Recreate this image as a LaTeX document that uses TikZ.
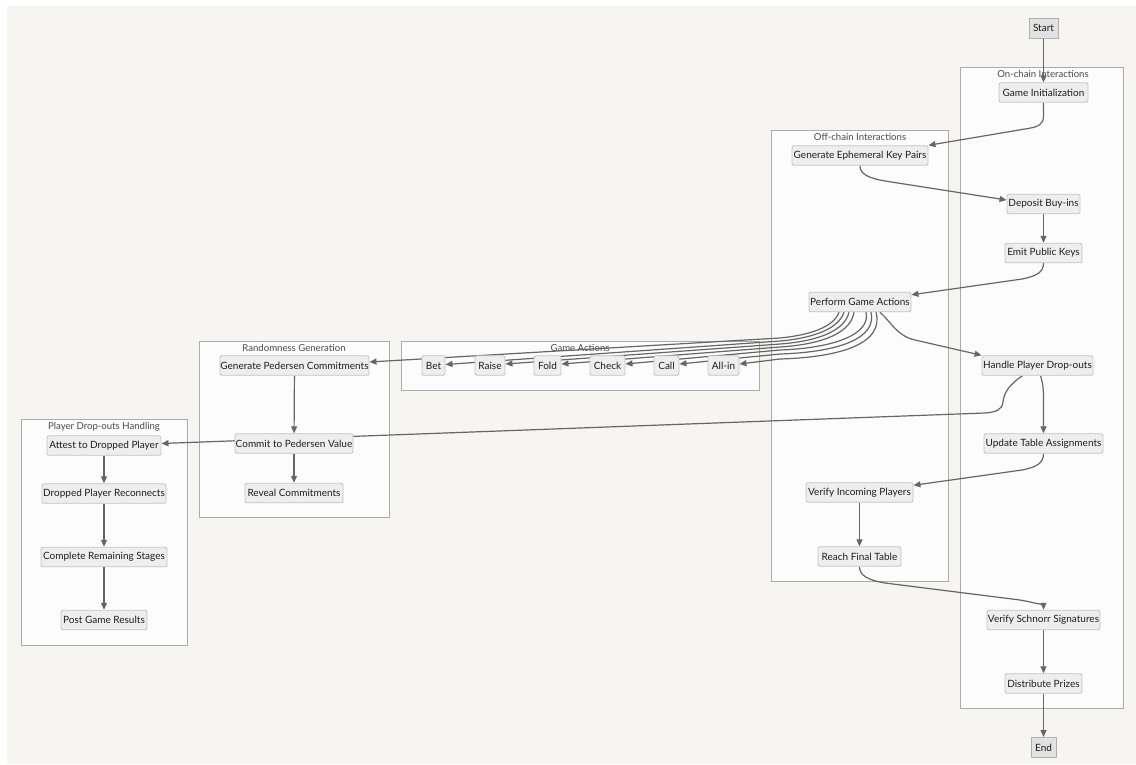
\documentclass[tikz,border=0pt]{standalone}
\usepackage{fontspec}
\setmainfont{Lato}
\usetikzlibrary{arrows.meta}
\definecolor{bgc}{HTML}{F6F5F2}
\definecolor{nodefill}{HTML}{EEEEEE}
\definecolor{nodedraw}{HTML}{C4C4C4}
\definecolor{clfill}{HTML}{FCFCFC}
\definecolor{cldraw}{HTML}{ABABAB}
\definecolor{edgec}{HTML}{666666}
\definecolor{txt}{HTML}{1E1E1E}
\definecolor{ttl}{HTML}{4A4A4A}
\pgfdeclarelayer{bg}
\pgfdeclarelayer{edges}
\pgfsetlayers{bg,edges,main}
\tikzset{
  nd/.style={draw=nodedraw, fill=nodefill, rounded corners=2pt, line width=0.9pt,
    minimum height=19.5pt, inner sep=0pt, text=txt, font=\fontsize{10}{12}\selectfont},
  term/.style={nd, rounded corners=0pt, draw=nodedraw!90!black, fill=nodefill!95!black, minimum height=20pt},
  cluster/.style={draw=cldraw, fill=clfill, line width=0.9pt},
  ctitle/.style={text=ttl, inner sep=0pt, font=\fontsize{9.6}{11}\selectfont},
  edge/.style={draw=edgec, line width=1.2pt, -{Triangle[length=7pt,width=6pt]}},
}
\begin{document}
\begin{tikzpicture}[x=1pt,y=-1pt]
\useasboundingbox (0,0) rectangle (1136,764);
\begin{pgfonlayer}{bg}
\fill[white] (0,0) rectangle (1136,764);
\fill[bgc] (7,6) rectangle (1136,764);
\draw[cluster] (960,67) rectangle (1123,708);
\node[ctitle] (t1) at (1043,74) {On-chain Interactions};
\draw[cluster] (771,130) rectangle (948,581);
\node[ctitle] (t2) at (860,137) {Off-chain Interactions};
\draw[cluster] (401,341) rectangle (759,390);
\node[ctitle] (t3) at (580,348) {Game Actions};
\draw[cluster] (199,341) rectangle (389,517);
\node[ctitle] (t4) at (294,348) {Randomness Generation};
\draw[cluster] (21,419) rectangle (187,645);
\node[ctitle] (t5) at (104,427) {Player Drop-outs Handling};
\end{pgfonlayer}

% nodes
\node[term, minimum width=29pt] (start) at (1043.5,28) {Start};
\node[nd, minimum width=89pt] (gi) at (1043.5,92.5) {Game Initialization};
\node[nd, minimum width=136pt] (gekp) at (860,155.5) {Generate Ephemeral Key Pairs};
\node[nd, minimum width=73pt] (dep) at (1043.5,204) {Deposit Buy-ins};
\node[nd, minimum width=77pt] (emit) at (1043.5,253) {Emit Public Keys};
\node[nd, minimum width=102pt] (pga) at (860,302) {Perform Game Actions};
\node[nd, minimum width=23pt] (bet) at (433.5,365.5) {Bet};
\node[nd, minimum width=30pt] (raise) at (490,365.5) {Raise};
\node[nd, minimum width=27pt] (fold) at (547.5,365.5) {Fold};
\node[nd, minimum width=35pt] (check) at (607.5,365.5) {Check};
\node[nd, minimum width=25pt] (call) at (666.5,365.5) {Call};
\node[nd, minimum width=31pt] (allin) at (723.5,365.5) {All-in};
\node[nd, minimum width=149pt] (gpc) at (294.5,365.5) {Generate Pedersen Commitments};
\node[nd, minimum width=118pt] (cpv) at (294,443.5) {Commit to Pedersen Value};
\node[nd, minimum width=98pt] (rev) at (294,493) {Reveal Commitments};
\node[nd, minimum width=114pt] (att) at (104,445.5) {Attest to Dropped Player};
\node[nd, minimum width=124pt] (dpr) at (104,493.5) {Dropped Player Reconnects};
\node[nd, minimum width=126pt] (crs) at (104,557) {Complete Remaining Stages};
\node[nd, minimum width=86pt] (pgr) at (104,620) {Post Game Results};
\node[nd, minimum width=111pt] (hpd) at (1037.5,365.5) {Handle Player Drop-outs};
\node[nd, minimum width=119pt] (uta) at (1043.5,443.5) {Update Table Assignments};
\node[nd, minimum width=107pt] (vip) at (859.5,492.5) {Verify Incoming Players};
\node[nd, minimum width=83pt] (rft) at (859.5,556.5) {Reach Final Table};
\node[nd, minimum width=113pt] (vss) at (1043.5,620) {Verify Schnorr Signatures};
\node[nd, minimum width=77pt] (dp) at (1043.5,683.5) {Distribute Prizes};
\node[term, minimum width=25pt] (end) at (1043.5,747.5) {End};

\begin{pgfonlayer}{edges}
\draw[edge] (start) -- (gi);
\draw[edge] (gi.south) -- (1043.5,116) .. controls (1043.5,125) and (1038,127) .. (1025,129) -- (gekp.north east);
\draw[edge] (gekp.south) .. controls (860,174) and (868,178) .. (885,181) -- ([yshift=4pt]dep.west);
\draw[edge] (dep) -- (emit);
\draw[edge] (emit.south) .. controls (1043.5,272) and (1037,276) .. (1022,279) -- ([yshift=-3pt]pga.north east);
% fan
\draw[edge] ([xshift=-21pt]pga.south) .. controls (834,327) and (810,335) .. (780,338) -- ([yshift=3.5pt]gpc.east);
\draw[edge] ([xshift=-16pt]pga.south) .. controls (839,328) and (815,338) .. (780,341) -- ([yshift=1pt]bet.east);
\draw[edge] ([xshift=-11pt]pga.south) .. controls (845,330) and (820,341) .. (780,344) -- ([yshift=1.5pt]raise.east);
\draw[edge] ([xshift=-6pt]pga.south) .. controls (851,332) and (825,344) .. (780,347) -- ([yshift=1.5pt]fold.east);
\draw[edge] ([xshift=6pt]pga.south) .. controls (871,334) and (835,348) .. (780,350) -- ([yshift=1.5pt]check.east);
\draw[edge] ([xshift=11pt]pga.south) .. controls (877,338) and (840,352) .. (780,354) -- ([yshift=1.5pt]call.east);
\draw[edge] ([xshift=16pt]pga.south) .. controls (884,342) and (845,357) .. (780,359) -- ([yshift=1.5pt]allin.east);
\draw[edge] ([xshift=20pt]pga.south) .. controls (891,322) and (897,336) .. (915,340) -- (hpd.north west);
% drop-outs
\draw[edge] ([xshift=3pt]hpd.south) .. controls (1043.5,385) and (1043.5,392) .. (1043.5,400) -- (uta.north);
\draw[edge] ([xshift=-15pt]hpd.south) .. controls (1010,384) and (1004,392) .. (1003,402) .. controls (1002,410) and (996,412) .. (985,413) -- ([yshift=2pt]att.east);
\draw[edge] (uta.south) .. controls (1043.5,463) and (1037,467) .. (1022,470) -- ([yshift=-3pt]vip.north east);
\draw[edge] (vip) -- (rft);
\draw[edge] (rft.south) .. controls (859.5,575) and (867,580) .. (885,583) -- (1020,600) .. controls (1037,603) and (1043.5,606) .. (vss.north);
\draw[edge] (vss) -- (dp);
\draw[edge] (dp) -- (end);
% randomness
\draw[edge] (gpc) -- (cpv);
\draw[edge] (cpv) -- (rev);
% player drop-outs
\draw[edge] (att) -- (dpr);
\draw[edge] (dpr) -- (crs);
\draw[edge] (crs) -- (pgr);
\end{pgfonlayer}
\end{tikzpicture}
\end{document}
